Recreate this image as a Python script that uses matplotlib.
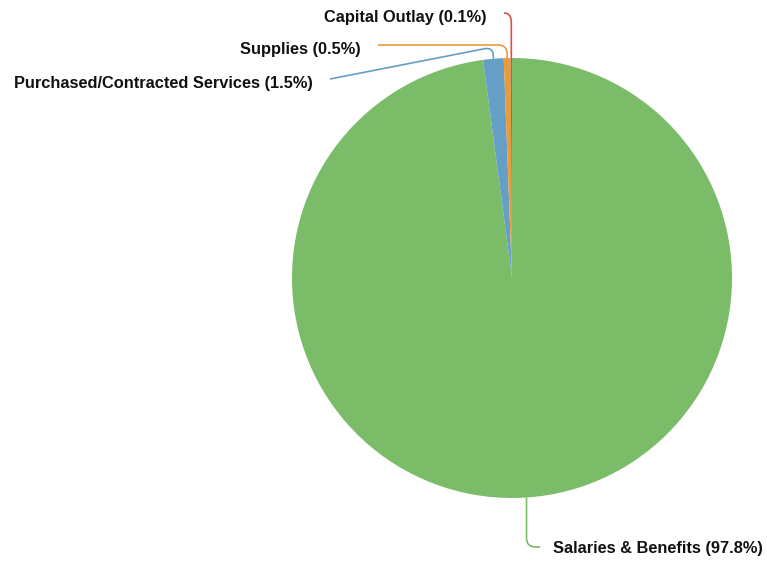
import numpy as np
import matplotlib.pyplot as plt
from matplotlib.path import Path
from matplotlib.patches import PathPatch

# slice data (clockwise from 12 o'clock)
labels = ["Salaries & Benefits", "Purchased/Contracted Services", "Supplies", "Capital Outlay"]
values = [97.8, 1.5, 0.5, 0.1]
colors = ["#7bbc69", "#659fc6", "#e69c3c", "#d9503f"]

W, H = 767, 561
cx, cy, r = 512, H - 278, 220

# label layout: (elbow y, line end x, line end y, text x, text y, ha) in image px
layout = [
    (547, 540, 547, 553, 548, "left"),
    (47, 330, 79, 313, 83, "right"),
    (45, 378, 45, 361, 49, "right"),
    (13, 504, 13, 487, 17, "right"),
]


def make_leader(x0, y0, yk, xe, ye, k=9):
    # vertical run from wedge edge, rounded corner, then straight to label
    sgn = 1 if yk > y0 else -1
    p_start = (x0, y0)
    p_a = (x0, yk - sgn * k)
    d = np.array([xe - x0, ye - yk], float)
    d /= np.hypot(*d)
    kk = min(k, np.hypot(xe - x0, ye - yk))
    p_b = (x0 + d[0] * kk, yk + d[1] * kk)
    pts = [p_start, p_a, (x0, yk), p_b, (xe, ye)]
    pts = [(px, H - py) for px, py in pts]
    codes = [Path.MOVETO, Path.LINETO, Path.CURVE3, Path.CURVE3, Path.LINETO]
    return Path(pts, codes)


fig = plt.figure(figsize=(W / 100, H / 100), dpi=100)
ax = fig.add_axes([0, 0, 1, 1])

wedges, _ = ax.pie(values, colors=colors, startangle=90, counterclock=False,
                   center=(cx, cy), radius=r, frame=True,
                   wedgeprops=dict(linewidth=0))
ax.set_xlim(0, W)
ax.set_ylim(0, H)
ax.set_aspect("equal")
ax.axis("off")

for w, lab, v, col, (yk, xe, ye, tx, ty, ha) in zip(wedges, labels, values, colors, layout):
    mid = np.deg2rad((w.theta1 + w.theta2) / 2)
    x0 = cx + r * np.cos(mid)
    y0 = H - (cy + r * np.sin(mid))
    path = make_leader(x0, y0, yk, xe, ye)
    ax.add_patch(PathPatch(path, fill=False, edgecolor=col, linewidth=1.2))
    ax.text(tx, H - ty, f"{lab} ({v:.1f}%)", ha=ha, va="center",
            fontsize=11.8, fontweight="bold", family="Liberation Sans", color="#111111")

fig.savefig("out.png", dpi=100)
